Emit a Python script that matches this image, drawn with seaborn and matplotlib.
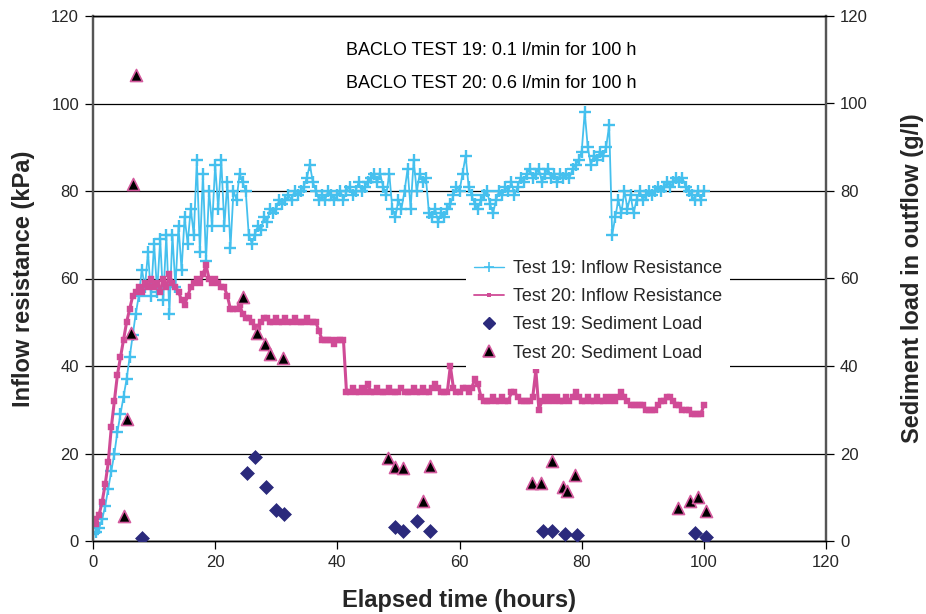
import numpy as np
import pandas as pd
import matplotlib
matplotlib.use("Agg")
import matplotlib.pyplot as plt
import seaborn as sns
from matplotlib.lines import Line2D

# ---------------- data ----------------
hours = np.arange(0, 100.5, 0.5)

test19_kpa = [
    1.5, 2, 3, 5, 8, 12, 16, 20, 25, 29,
    33, 37, 42, 47, 52, 56, 62, 58, 66, 56,
    68, 57, 69, 55, 70, 52, 70, 58, 72, 62,
    74, 68, 76, 70, 87, 66, 84, 64, 80, 72,
    86, 76, 87, 72, 82, 67, 80, 78, 84, 82,
    80, 70, 68, 70, 72, 71, 74, 73, 76, 75,
    76, 78, 77, 78, 79, 78, 80, 79, 80, 81,
    83, 86, 82, 80, 78, 79, 78, 80, 79, 78,
    79, 80, 78, 80, 81, 79, 80, 82, 80, 81,
    82, 83, 84, 82, 84, 81, 79, 84, 76, 74,
    78, 76, 80, 85, 76, 87, 80, 84, 82, 83,
    75, 74, 76, 73, 75, 74, 76, 77, 79, 81,
    80, 84, 88, 81, 79, 77, 76, 78, 79, 80,
    77, 75, 78, 80, 79, 81, 80, 82, 79, 81,
    83, 82, 84, 85, 83, 84, 85, 82, 84, 85,
    83, 84, 82, 84, 83, 84, 83, 85, 86, 87,
    89, 98, 90, 86, 88, 87, 89, 88, 90, 95,
    70, 74, 78, 75, 80, 76, 79, 75, 78, 80,
    78, 79, 80, 79, 80, 81, 80, 81, 82, 81,
    82, 83, 82, 83, 81, 80, 79, 78, 80, 78,
    80,
]

test20_kpa = [
    5, 4, 6, 9, 13, 18, 26, 32, 38, 42,
    46, 50, 53, 56, 57, 58, 57, 59, 58, 60,
    58, 59, 57, 60, 58, 61, 59, 58, 57, 55,
    54, 56, 58, 59, 60, 59, 61, 63, 60, 59,
    60, 59, 58, 58, 56, 53, 53, 53, 54, 52,
    51, 51, 50, 49, 49, 50, 51, 51, 50, 50,
    51, 50, 50, 51, 50, 50, 51, 50, 50, 50,
    51, 50, 50, 50, 48, 46, 46, 46, 46, 45,
    46, 46, 46, 34, 34, 35, 34, 34, 35, 34,
    36, 34, 34, 35, 34, 34, 34, 35, 34, 34,
    34, 35, 34, 34, 34, 35, 34, 34, 35, 34,
    34, 35, 36, 35, 34, 34, 34, 40, 35, 34,
    34, 35, 35, 34, 35, 37, 36, 33, 32, 32,
    32, 33, 32, 32, 33, 32, 32, 34, 34, 33,
    32, 32, 32, 32, 33, 39, 30, 32, 33, 32,
    33, 32, 33, 32, 32, 33, 32, 33, 34, 33,
    32, 32, 33, 32, 32, 33, 32, 32, 33, 32,
    33, 32, 33, 34, 33, 32, 31, 31, 31, 31,
    31, 30, 30, 30, 30, 31, 32, 32, 33, 33,
    32, 31, 31, 30, 30, 30, 29, 29, 29, 29,
    31,
]

sed19_time = [8.1, 25.2, 26.5, 28.3, 29.9, 31.3, 49.4, 50.8, 53.0, 55.1,
              73.6, 75.1, 77.2, 79.3, 98.6, 100.4]
sed19_load = [0.8, 15.6, 19.3, 12.4, 7.1, 6.2, 3.3, 2.3, 4.6, 2.4,
              2.4, 2.4, 1.6, 1.4, 1.9, 1.0]

sed20_time = [5.0, 5.6, 6.2, 6.6, 7.0, 24.5, 26.8, 28.2, 29.0, 31.1,
              48.3, 49.4, 50.8, 54.1, 55.1, 71.8, 73.3, 75.1, 77.0, 77.6,
              78.9, 95.8, 97.7, 99.1, 100.4]
sed20_load = [5.8, 27.8, 47.5, 81.7, 106.5, 55.7, 47.6, 45.0, 42.7, 41.8,
              18.9, 17.0, 16.8, 9.1, 17.1, 13.2, 13.2, 18.4, 12.4, 11.5,
              15.1, 7.5, 9.2, 10.1, 6.9]

ticks = [0, 20, 40, 60, 80, 100, 120]
labels = ["Test 19: Inflow Resistance", "Test 20: Inflow Resistance",
          "Test 19: Sediment Load", "Test 20: Sediment Load"]
notes = ["BACLO TEST 19: 0.1 l/min for 100 h", "BACLO TEST 20: 0.6 l/min for 100 h"]

# ---------------- style ----------------
sns.set_theme(style="white")
plt.rcParams['font.family'] = ['Liberation Sans', 'DejaVu Sans']

BLUE = "#45C0EE"
MAGENTA = "#D04B96"
NAVY = "#2B2A7C"
TRI_EDGE = "#D45A9E"

df = pd.DataFrame({"hours": hours, "t19": test19_kpa, "t20": test20_kpa})
s19 = pd.DataFrame({"t": sed19_time, "v": sed19_load})
s20 = pd.DataFrame({"t": sed20_time, "v": sed20_load})

fig = plt.figure(figsize=(9.26, 6.14), dpi=100)
ax = fig.add_axes([93 / 926, 73 / 614, 733 / 926, 525 / 614])
ax2 = ax.twinx()

sns.lineplot(data=df, x="hours", y="t19", ax=ax, color=BLUE, lw=1.3,
             marker="+", markersize=8.5, markeredgewidth=1.7, markeredgecolor=BLUE,
             estimator=None, sort=False, zorder=3)
sns.lineplot(data=df, x="hours", y="t20", ax=ax, color=MAGENTA, lw=2.2,
             marker="s", markersize=4.6, markeredgewidth=0.3, markeredgecolor=MAGENTA,
             estimator=None, sort=False, zorder=4)

sns.scatterplot(data=s19, x="t", y="v", ax=ax2, marker="D", s=50,
                color=NAVY, edgecolor=NAVY, linewidth=0.5, zorder=5)
sns.scatterplot(data=s20, x="t", y="v", ax=ax2, marker="^", s=75,
                color="black", edgecolor=TRI_EDGE, linewidth=1.2, zorder=6)

for a in (ax, ax2):
    a.set_xlim(0, 120)
    a.set_ylim(0, 120)
    a.set_yticks(ticks)
    a.set_yticklabels([str(v) for v in ticks])
    for sp in a.spines.values():
        sp.set_color("black")
        sp.set_linewidth(1.0)
        sp.set_visible(True)

ax.set_xticks(ticks)
ax.set_xticklabels([str(v) for v in ticks])
ax.yaxis.grid(True, color="black", lw=0.9)
ax.xaxis.grid(False)
ax.set_axisbelow(True)
for a in (ax, ax2):
    a.spines["left"].set_color("#555555")
    a.spines["left"].set_linewidth(1.6)
    a.spines["right"].set_color("#555555")
    a.spines["right"].set_linewidth(1.6)

ax.tick_params(axis="both", direction="out", length=6, width=0.9, color="black",
               labelsize=12, pad=4, left=True, bottom=True)
ax2.tick_params(axis="y", direction="out", length=6, width=0.9, color="black",
                labelsize=12, pad=4, right=True)
ax2.grid(False)

ax.set_xlabel("Elapsed time (hours)", fontsize=17, fontweight="bold", labelpad=14)
ax.set_ylabel("Inflow resistance (kPa)", fontsize=17, fontweight="bold", labelpad=12)
ax2.set_ylabel("Sediment load in outflow (g/l)", fontsize=17, fontweight="bold",
               labelpad=24)

ax2.text(0.543, 0.935, notes[0], transform=ax2.transAxes, ha="center", va="center",
         fontsize=13, color="black")
ax2.text(0.543, 0.872, notes[1], transform=ax2.transAxes, ha="center", va="center",
         fontsize=13, color="black")

handles = [
    Line2D([], [], color=BLUE, lw=1.0, marker="+", markersize=7, markeredgewidth=1.2),
    Line2D([], [], color=MAGENTA, lw=1.3, marker="s", markersize=3.2, markeredgewidth=0),
    Line2D([], [], color=NAVY, lw=0, marker="D", markersize=6.5),
    Line2D([], [], color="black", lw=0, marker="^", markersize=8,
           markeredgecolor=TRI_EDGE, markeredgewidth=1.2),
]
leg = ax2.legend(handles, labels, loc="upper left", bbox_to_anchor=(0.497, 0.566),
                 frameon=True, fontsize=13, handlelength=1.7, handletextpad=0.5,
                 labelspacing=0.62, borderpad=0.4, fancybox=False)
leg.get_frame().set_facecolor("white")
leg.get_frame().set_edgecolor("none")
leg.get_frame().set_alpha(1.0)
leg.set_zorder(10)

fig.savefig("out.png", dpi=100, facecolor="white")
